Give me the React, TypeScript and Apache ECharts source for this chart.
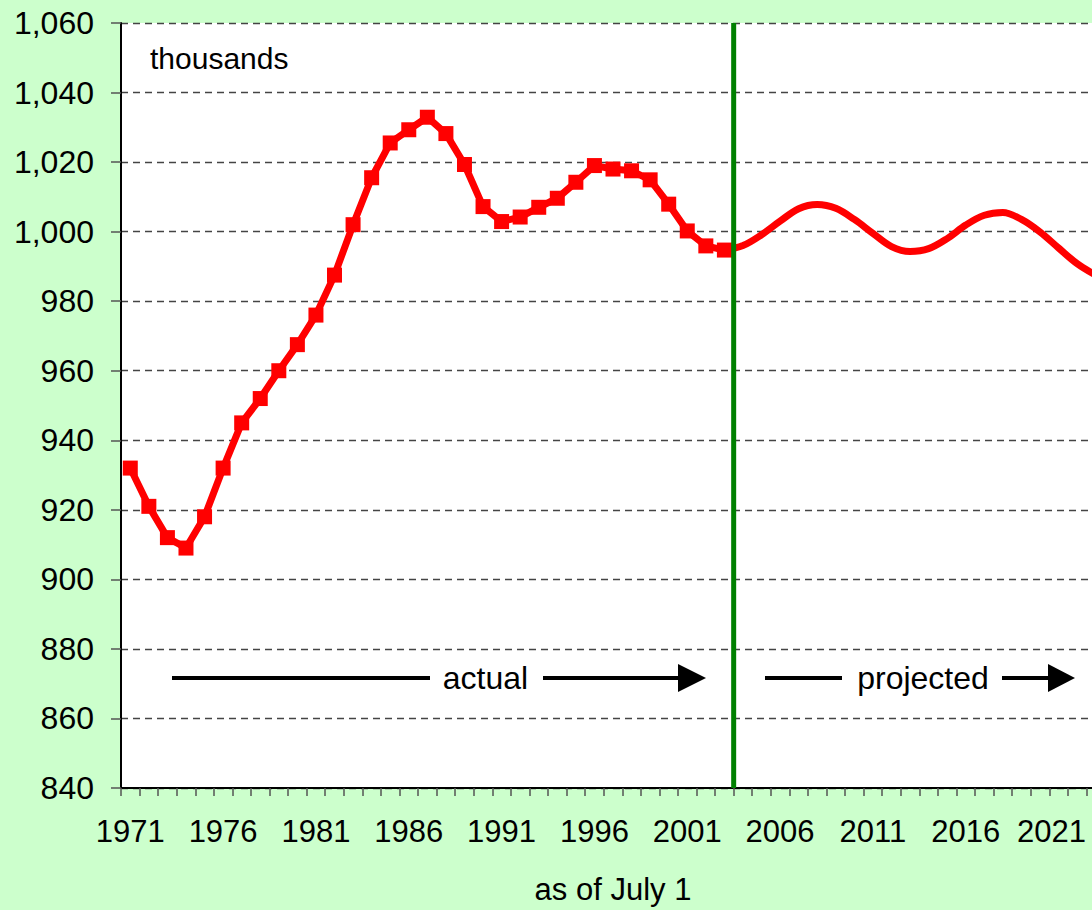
import React, { useEffect, useRef } from "react";
import * as echarts from "echarts";

const years = [
  "1971", "1972", "1973", "1974", "1975", "1976", "1977", "1978", "1979", "1980",
  "1981", "1982", "1983", "1984", "1985", "1986", "1987", "1988", "1989", "1990",
  "1991", "1992", "1993", "1994", "1995", "1996", "1997", "1998", "1999", "2000",
  "2001", "2002", "2003", "2004", "2005", "2006", "2007", "2008", "2009", "2010",
  "2011", "2012", "2013", "2014", "2015", "2016", "2017", "2018", "2019", "2020",
  "2021", "2022", "2023",
];

// actual, 1971–2003 (thousands)
const actualValues = [
  932, 921, 912, 909, 918, 932, 945, 952, 960, 967.5,
  976, 987.5, 1002, 1015.5, 1025.5, 1029.3, 1032.9, 1028.2, 1019.3, 1007.2,
  1002.9, 1004.2, 1007, 1009.6, 1014.2, 1019, 1018, 1017.5, 1014.9, 1007.9,
  1000.2, 995.9, 994.7,
];

// projected, 2003–2023 (thousands)
const projectedValues = [
  994.7, 996, 999.1, 1003, 1006.6, 1007.8, 1006.7, 1003.5, 999.5, 995.7,
  994.3, 995.1, 998, 1001.9, 1004.7, 1005.5, 1003.5, 999.9, 995.3, 990.8,
  987.5,
];

// divider between actual and projected (category boundary after 2003)
const dividerIndex = 32.5;

// last visible tick label (nudged inside the frame, as in the original)
const lastLabel = "2021";

const yMin = 840;
const yMax = 1060;
const yStep = 20;

const FONT = "Liberation Sans, Arial, sans-serif";

export default function App() {
  const ref = useRef<HTMLDivElement>(null);

  useEffect(() => {
    const chart = echarts.init(ref.current!, null, { renderer: "svg" });

    const projectedSeries = [
      ...actualValues.slice(0, actualValues.length - 1).map(() => null),
      ...projectedValues,
    ];

    const option: any = {
      animation: false,
      backgroundColor: "#CCFFCC",
      textStyle: { fontFamily: FONT },
      grid: {
        left: 121,
        top: 23,
        bottom: 117.5,
        right: 0,
        show: true,
        backgroundColor: "#FFFFFF",
        borderWidth: 0,
        containLabel: false,
      },
      xAxis: [
        {
          type: "category",
          data: years,
          boundaryGap: true,
          axisLine: { show: true, onZero: false, lineStyle: { color: "#000", width: 2 } },
          axisTick: {
            show: true,
            interval: 0,
            length: 8,
            lineStyle: { color: "#555", width: 1.5 },
          },
          axisLabel: {
            interval: 4,
            margin: 28,
            fontSize: 31,
            color: "#000",
            fontFamily: FONT,
            formatter: (v: string) => (v === lastLabel ? `{last|${v}}` : v),
            rich: {
              last: {
                fontSize: 31,
                color: "#000",
                fontFamily: FONT,
                padding: [0, 14, 0, 0],
              },
            },
          },
          splitLine: { show: false },
          name: "as of July 1",
          nameLocation: "middle",
          nameGap: 86,
          nameTextStyle: { fontSize: 31, color: "#000", fontFamily: FONT },
        },
        {
          type: "value",
          min: -0.5,
          max: years.length - 0.5,
          show: false,
        },
      ],
      yAxis: {
        type: "value",
        min: yMin,
        max: yMax,
        interval: yStep,
        axisLine: { show: true, onZero: false, lineStyle: { color: "#000", width: 2 } },
        axisTick: {
          show: true,
          length: 10,
          lineStyle: { color: "#555", width: 1.5 },
        },
        axisLabel: {
          margin: 27,
          fontSize: 32,
          color: "#000",
          fontFamily: FONT,
          formatter: (v: number) => v.toLocaleString("en-US"),
        },
        splitLine: {
          show: true,
          lineStyle: { color: "#444", width: 1.3, type: [7, 5] },
        },
      },
      series: [
        {
          name: "actual",
          type: "line",
          data: actualValues,
          xAxisIndex: 0,
          symbol: "rect",
          symbolSize: 15,
          showSymbol: true,
          showAllSymbol: true,
          itemStyle: { color: "#FF0000" },
          lineStyle: { color: "#FF0000", width: 7 },
          z: 3,
        },
        {
          name: "projected",
          type: "line",
          data: projectedSeries,
          xAxisIndex: 0,
          smooth: 0.35,
          symbol: "none",
          showSymbol: false,
          lineStyle: { color: "#FF0000", width: 7 },
          z: 3,
        },
        {
          name: "divider",
          type: "line",
          xAxisIndex: 1,
          data: [
            [dividerIndex, yMin],
            [dividerIndex, yMax],
          ],
          symbol: "none",
          lineStyle: { color: "#008000", width: 5 },
          z: 5,
        },
      ],
      graphic: [
        {
          type: "text",
          left: 150,
          top: 43,
          style: { text: "thousands", fontSize: 30, fill: "#000", fontFamily: FONT },
          z: 10,
        },
        // actual arrow
        {
          type: "line",
          shape: { x1: 172, y1: 678, x2: 430, y2: 678 },
          style: { stroke: "#000", lineWidth: 4 },
          z: 10,
        },
        {
          type: "text",
          x: 485.5,
          y: 678,
          style: {
            text: "actual",
            fontSize: 32,
            fill: "#000",
            fontFamily: FONT,
            align: "center",
            verticalAlign: "middle",
          },
          z: 10,
        },
        {
          type: "line",
          shape: { x1: 543, y1: 678, x2: 682, y2: 678 },
          style: { stroke: "#000", lineWidth: 4 },
          z: 10,
        },
        {
          type: "polygon",
          shape: { points: [[678, 664], [706, 678], [678, 692]] },
          style: { fill: "#000" },
          z: 10,
        },
        // projected arrow
        {
          type: "line",
          shape: { x1: 765, y1: 678, x2: 842, y2: 678 },
          style: { stroke: "#000", lineWidth: 4 },
          z: 10,
        },
        {
          type: "text",
          x: 923,
          y: 678,
          style: {
            text: "projected",
            fontSize: 32,
            fill: "#000",
            fontFamily: FONT,
            align: "center",
            verticalAlign: "middle",
          },
          z: 10,
        },
        {
          type: "line",
          shape: { x1: 1002, y1: 678, x2: 1052, y2: 678 },
          style: { stroke: "#000", lineWidth: 4 },
          z: 10,
        },
        {
          type: "polygon",
          shape: { points: [[1048, 664], [1075, 678], [1048, 692]] },
          style: { fill: "#000" },
          z: 10,
        },
      ],
    };

    chart.setOption(option);
    return () => chart.dispose();
  }, []);

  return (
    <div
      style={{
        position: "absolute",
        left: 0,
        top: 0,
        width: 1092,
        height: 910,
        overflow: "hidden",
        background: "#CCFFCC",
      }}
    >
      <div ref={ref} style={{ width: 1105, height: 910 }} />
    </div>
  );
}
